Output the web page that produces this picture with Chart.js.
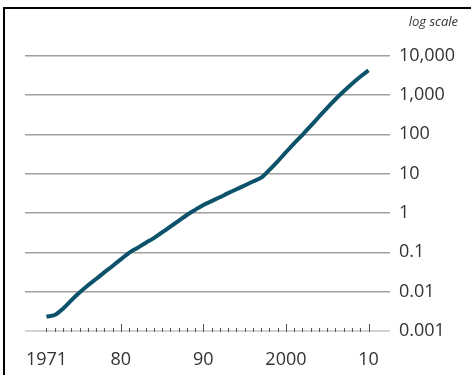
<!DOCTYPE html>
<html>
<head>
<meta charset="utf-8">
<script src="https://cdn.jsdelivr.net/npm/chart.js@4/dist/chart.umd.min.js"></script>
<style>
  html, body { margin: 0; padding: 0; background: #fff; }
  #wrap { position: relative; width: 471px; height: 375px; overflow: hidden; }
  #frame { position: absolute; left: 3px; top: 7px; right: 0; bottom: 0;
           border-top: 2px solid #000; border-left: 2.5px solid #000; }
  #c { position: absolute; left: 0; top: 0; }
</style>
</head>
<body>
<div id="wrap">
  <div id="frame"></div>
  <canvas id="c" width="471" height="375"></canvas>
</div>
<script>
// yearly values
const years = [1971, 1972, 1973, 1974, 1975, 1976, 1977, 1978, 1979, 1980,
               1981, 1982, 1983, 1984, 1985, 1986, 1987, 1988, 1989, 1990,
               1991, 1992, 1993, 1994, 1995, 1996, 1997, 1998, 1999, 2000,
               2001, 2002, 2003, 2004, 2005, 2006, 2007, 2008, 2009, 2010];
const values = [0.0023, 0.00255, 0.0037, 0.006, 0.0095, 0.0144, 0.021, 0.031, 0.045, 0.066,
                0.097, 0.129, 0.173, 0.229, 0.32, 0.45, 0.63, 0.89, 1.2, 1.6,
                2.0, 2.5, 3.2, 4.0, 5.0, 6.3, 7.9, 12.5, 20.6, 35,
                59, 97, 164, 279, 472, 778, 1240, 1930, 2900, 4200];

const xTicks = [1971, 1980, 1990, 2000, 2010];
const xLabels = ['1971', '80', '90', '2000', '10'];
const yTicks = [0.001, 0.01, 0.1, 1, 10, 100, 1000, 10000];
const yLabels = ['0.001', '0.01', '0.1', '1', '10', '100', '1,000', '10,000'];

const FONT = 'Open Sans';

// small year ticks sitting on the bottom axis line
const yearTicks = {
    id: 'yearTicks',
    beforeDatasetsDraw(chart) {
        const {ctx, scales: {x, y}} = chart;
        const base = y.getPixelForValue(yTicks[0]) + 1;
        ctx.save();
        ctx.strokeStyle = '#555';
        ctx.lineWidth = 1;
        for (let yr = years[0]; yr <= years[years.length - 1]; yr++) {
            const px = Math.round(x.getPixelForValue(yr)) + 0.5;
            const len = yr % 10 === 0 ? 8 : 4;
            ctx.beginPath();
            ctx.moveTo(px, base);
            ctx.lineTo(px, base - len);
            ctx.stroke();
        }
        ctx.restore();
    }
};

var ctx = document.getElementById('c').getContext('2d');
var chart = new Chart(ctx, {
    type: 'line',
    data: {
        labels: years,
        datasets: [{
            label: 'value',
            data: years.map((yr, i) => ({x: yr, y: values[i]})),
            borderColor: 'rgb(11, 82, 106)',
            borderWidth: 4,
            pointRadius: 0,
            tension: 0.3,
            fill: false
        }]
    },
    options: {
        responsive: false,
        animation: false,
        devicePixelRatio: 1,
        layout: { padding: { top: 14, left: 25, right: 13, bottom: 0 } },
        plugins: {
            legend: { display: false },
            tooltip: { enabled: false },
            title: {
                display: true,
                text: 'log scale',
                align: 'end',
                color: '#333',
                font: { family: FONT, size: 13, style: 'italic', weight: 'normal' },
                padding: { top: 0, bottom: 26 }
            }
        },
        scales: {
            x: {
                type: 'linear',
                min: 1968.4,
                max: 2012.6,
                grid: { display: false },
                border: { display: false },
                afterBuildTicks: s => { s.ticks = xTicks.map(v => ({value: v})); },
                afterFit: s => { s.height = 44; },
                ticks: {
                    autoSkip: false,
                    maxRotation: 0,
                    padding: 10,
                    color: '#333',
                    font: { family: FONT, size: 18 },
                    callback: (v, i) => xLabels[i]
                }
            },
            y: {
                type: 'logarithmic',
                position: 'right',
                min: 0.001,
                max: 10000,
                border: { display: false },
                grid: {
                    drawTicks: false,
                    color: c => (c.tick && c.tick.value === 0.001) ? '#d4d4d4' : '#a0a0a0',
                    lineWidth: c => (c.tick && c.tick.value === 0.001) ? 2 : 1.5
                },
                afterBuildTicks: s => { s.ticks = yTicks.map(v => ({value: v})); },
                afterFit: s => { s.width = 68; },
                ticks: {
                    padding: 9,
                    color: '#333',
                    font: { family: FONT, size: 18 },
                    callback: (v, i) => yLabels[i]
                }
            }
        }
    },
    plugins: [yearTicks]
});
</script>
</body>
</html>
